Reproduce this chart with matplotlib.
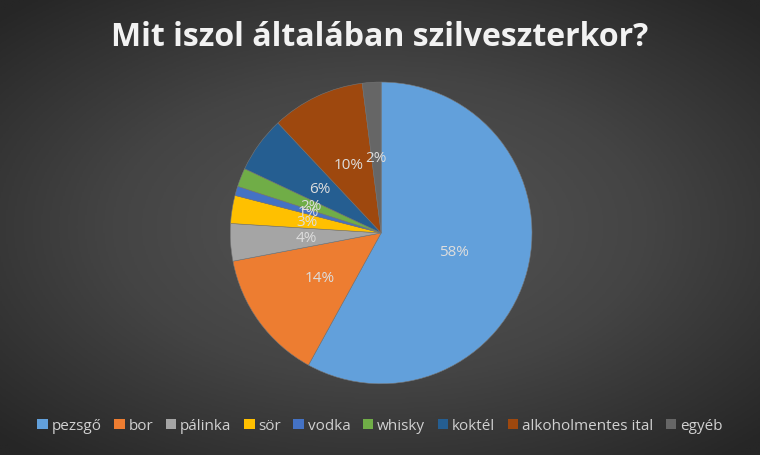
import matplotlib.pyplot as plt
import numpy as np
from matplotlib.colors import LinearSegmentedColormap

plt.rcParams['font.family'] = ['Open Sans', 'DejaVu Sans']

categories = ['pezsgő', 'bor', 'pálinka', 'sör', 'vodka', 'whisky', 'koktél',
              'alkoholmentes ital', 'egyéb']
shares = [58, 14, 4, 3, 1, 2, 6, 10, 2]
colors = ['#62A0DB', '#ED7D31', '#A5A5A5', '#FFC000', '#4472C4', '#70AD47',
          '#255E91', '#9E480E', '#666666']

fig = plt.figure(figsize=(7.6, 4.56), dpi=100)

# dark radial background
bg = fig.add_axes([0, 0, 1, 1], zorder=0)
yy, xx = np.mgrid[-1:1:300j, -1:1:500j]
r = np.sqrt((xx * 0.85) ** 2 + (yy * 0.9) ** 2)
bg_cmap = LinearSegmentedColormap.from_list('bg', ['#565656', '#444444', '#262626'])
bg.imshow(r, cmap=bg_cmap, vmin=0, vmax=1.2, aspect='auto', extent=[0, 1, 0, 1])
bg.axis('off')

ax = fig.add_axes([0.303, 0.156, 0.397, 0.662], zorder=1)
wedges, texts = ax.pie(shares, colors=colors, startangle=90, counterclock=False,
                       wedgeprops=dict(linewidth=0.4, edgecolor='#777777'))
ax.set_xlim(-1.0, 1.0)
ax.set_ylim(-1.0, 1.0)
ax.set_aspect('equal')
for w, v in zip(wedges, shares):
    ang = np.deg2rad((w.theta1 + w.theta2) / 2)
    ax.text(0.5 * np.cos(ang), 0.5 * np.sin(ang), f'{v}%', ha='center', va='center',
            color='#DDDDDD', fontsize=11)

fig.text(0.5, 0.917, 'Mit iszol általában szilveszterkor?', ha='center', va='center',
         color='#F2F2F2', fontsize=23, fontweight='bold')

leg = fig.legend(wedges, categories, loc='center', bbox_to_anchor=(0.5, 0.064), ncol=9,
                 frameon=False, fontsize=11, handlelength=0.7, handleheight=0.7,
                 handletextpad=0.25, columnspacing=0.8, labelcolor='#D0D0D0')
for h in leg.legend_handles:
    h.set_edgecolor('none')

fig.savefig('out.png', dpi=100, facecolor='#333333')
